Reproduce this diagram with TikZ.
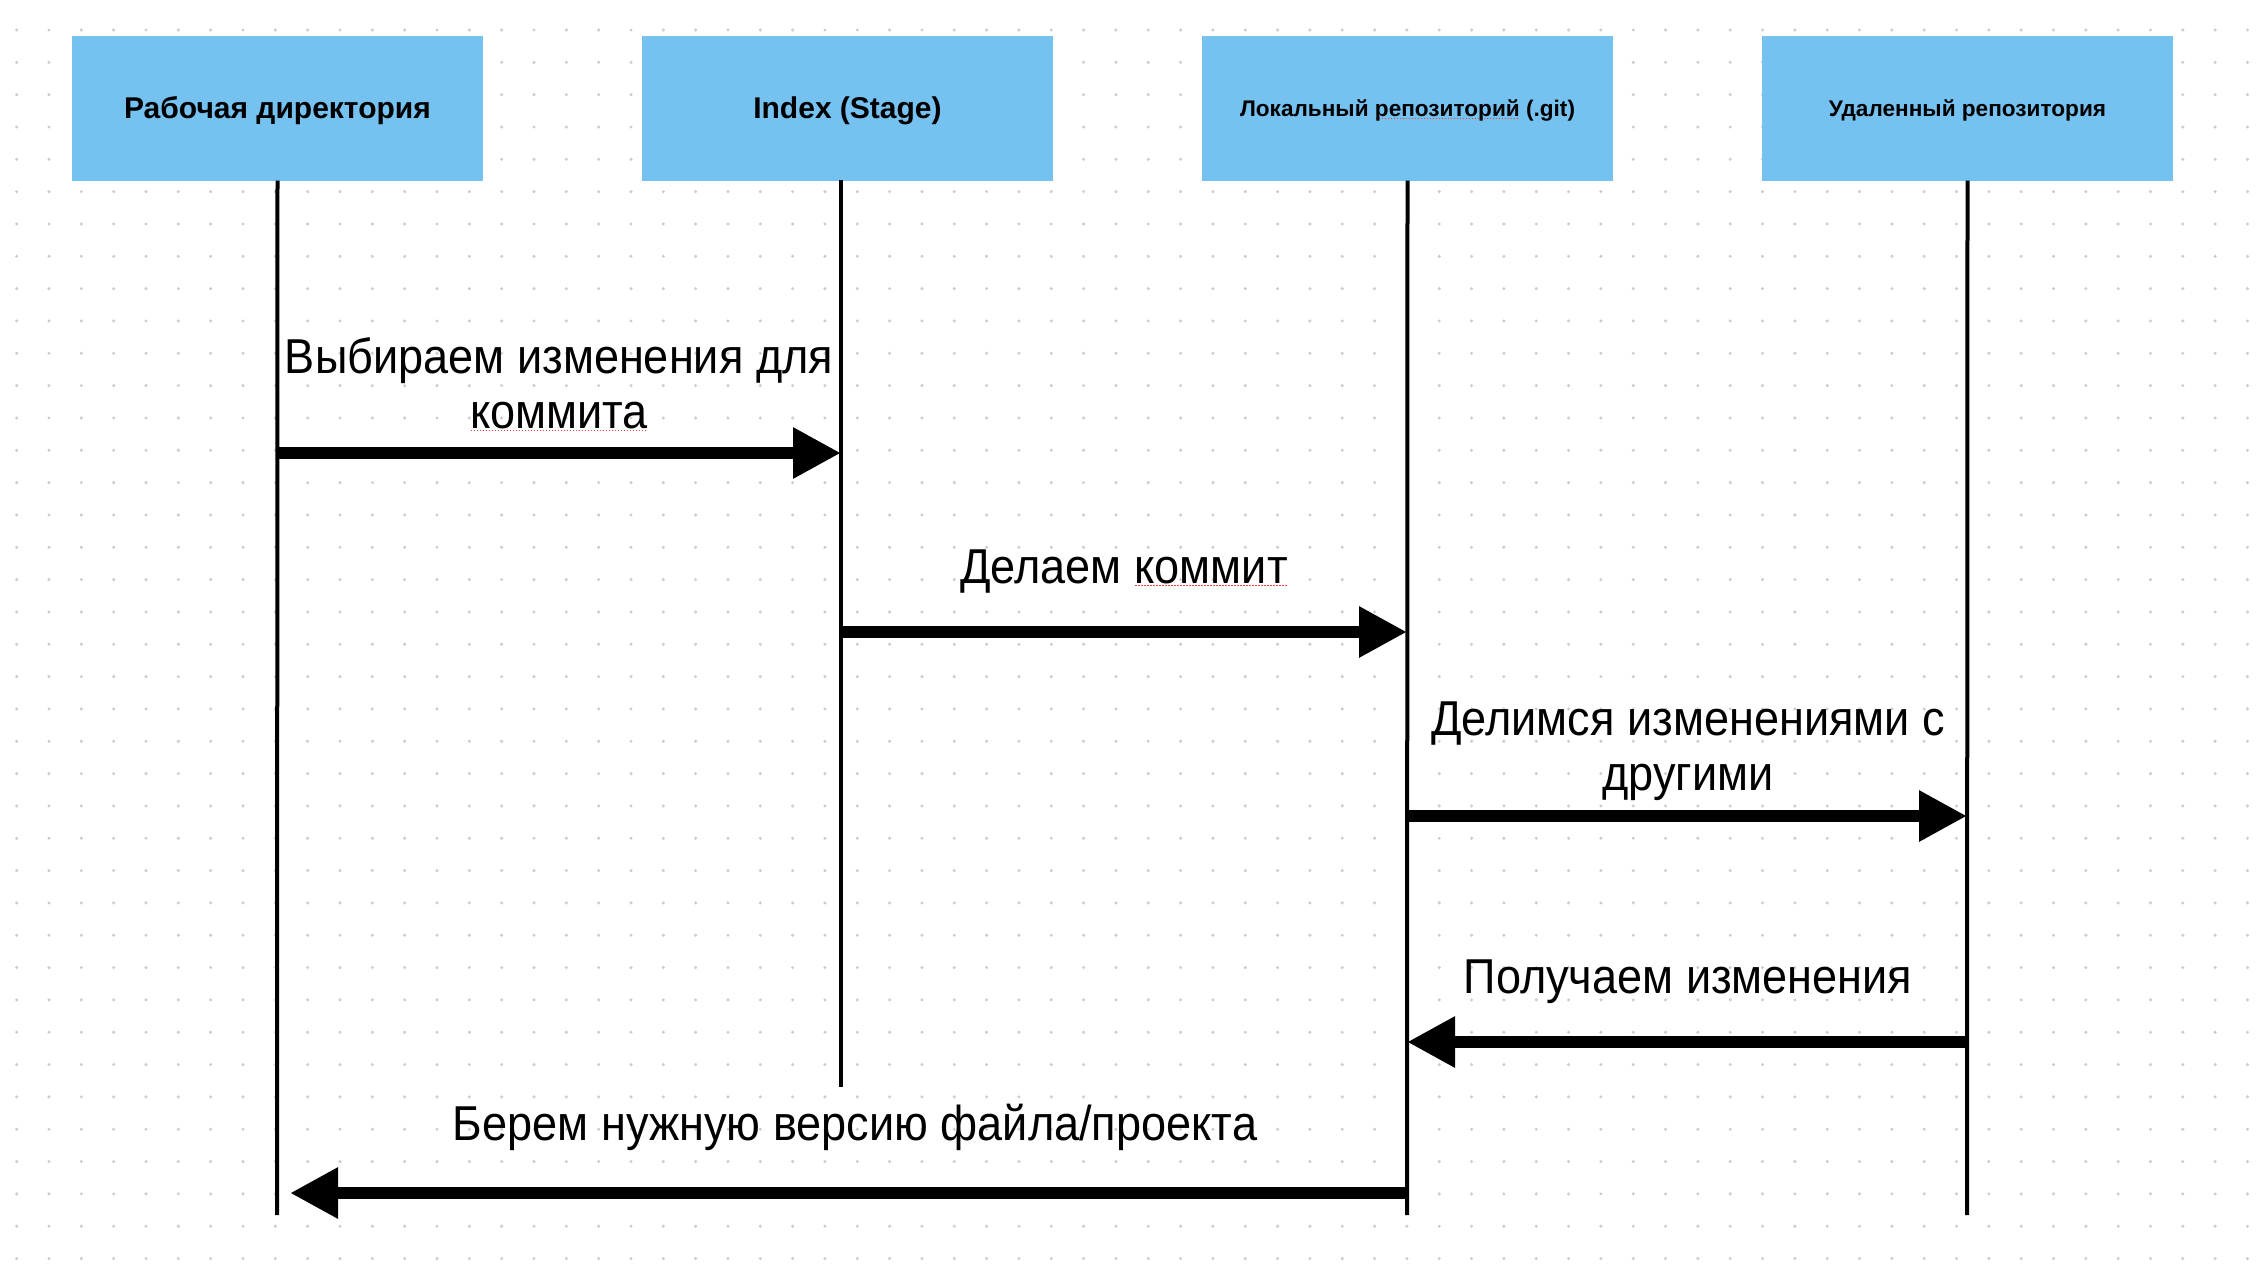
\documentclass[tikz,border=0pt]{standalone}
\usepackage{fontspec}
\setmainfont{Liberation Sans}
\newfontfamily\labelfont[FakeStretch=0.92]{Liberation Sans}
\usetikzlibrary{arrows.meta}

\definecolor{laneblue}{HTML}{75C1F0}
\definecolor{griddot}{HTML}{CDCDCD}
\definecolor{spellred}{HTML}{E5483B}

% red dotted spell-check mark under a word
\newcommand\spellmark[1]{\setbox0\hbox{#1}\rlap{\color{spellred}\raisebox{-3pt}{\hbox to \wd0{\leaders\hbox to 3pt{\hss\rule{1.5pt}{1.3pt}\hss}\hfill}}}\box0\relax}

\tikzset{
    lane/.style={fill=laneblue, minimum width=411pt, minimum height=145pt, inner sep=0pt, text depth=0pt},
    bigtitle/.style={font=\bfseries\fontsize{30}{36}\selectfont, text height=21.5pt},
    smalltitle/.style={font=\bfseries\fontsize{22.6}{28}\selectfont, text height=16.2pt},
    lifeline/.style={line width=4pt},
    msg/.style={line width=12pt, -{Triangle[length=48pt, width=48pt]}},
    msglabel/.style={anchor=base, inner sep=0pt, align=center, font=\labelfont\fontsize{49}{55}\selectfont}
}

\begin{document}
\begin{tikzpicture}[x=1pt, y=-1pt]
    \useasboundingbox (0,0) rectangle (2258,1282);
    \fill[white] (0,0) rectangle (2258,1282);

    % dotted canvas
    \foreach \i in {0,...,69}
        \foreach \j in {-1,...,38}
            \fill[griddot] (16.7+32.33*\i, 30+32.33*\j) circle (1.7pt);

    % participants
    \node[lane, bigtitle] (wd) at (277.5, 108) {Рабочая директория};
    \node[lane, bigtitle] (idx) at (847.5, 108) {Index (Stage)};
    \node[lane, smalltitle] (loc) at (1407.5, 108) {Локальный \spellmark{репозиторий} (.git)};
    \node[lane, smalltitle] (rem) at (1967.5, 108) {Удаленный репозитория};

    % lifelines
    \coordinate (idx-top) at (841, 180);
    \coordinate (wd-end) at (277, 1215);
    \coordinate (idx-end) at (841, 1087);
    \coordinate (loc-end) at (1407, 1215);
    \coordinate (rem-end) at (1967, 1215);
    \draw[lifeline] (wd.south) -- (wd-end);
    \draw[lifeline] (idx-top) -- (idx-end);
    \draw[lifeline] (loc.south) -- (loc-end);
    \draw[lifeline] (rem.south) -- (rem-end);

    % message end points
    \coordinate (m1a) at (277, 453);
    \coordinate (m1b) at (841, 453);
    \coordinate (m2a) at (841, 632);
    \coordinate (m2b) at (1407, 632);
    \coordinate (m3a) at (1407, 816);
    \coordinate (m3b) at (1967, 816);
    \coordinate (m4a) at (1967, 1042);
    \coordinate (m4b) at (1407, 1042);
    \coordinate (m5a) at (1407, 1193);
    \coordinate (m5b) at (290, 1193);

    % messages
    \draw[msg] (m1a) -- (m1b);
    \draw[msg] (m2a) -- (m2b);
    \draw[msg] (m3a) -- (m3b);
    \draw[msg] (m4a) -- (m4b);
    \draw[msg] (m5a) -- (m5b);

    % labels (base = last line)
    \node[msglabel] (l1) at (559, 428) {Выбираем изменения для\\\spellmark{коммита}};
    \node[msglabel] (l2) at (1124, 583) {Делаем \spellmark{коммит}};
    \node[msglabel] (l3) at (1688, 790) {Делимся изменениями с\\другими};
    \node[msglabel] (l4) at (1688, 993) {Получаем изменения};
    \node[msglabel] (l5) at (855, 1140) {Берем нужную версию файла/проекта};
\end{tikzpicture}
\end{document}
